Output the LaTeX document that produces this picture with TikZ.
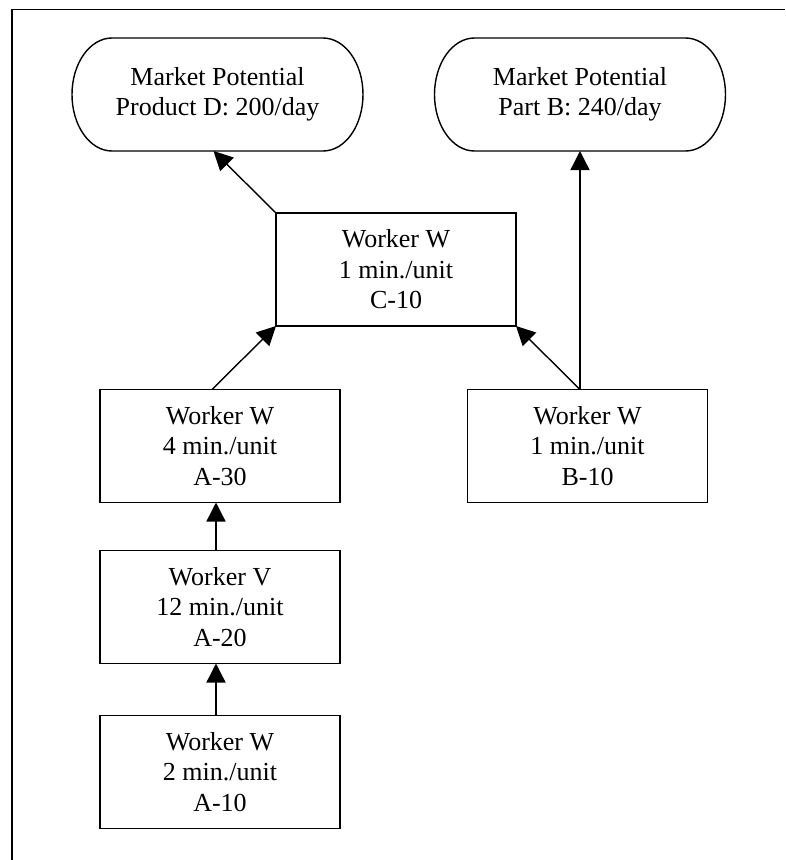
\documentclass[tikz,border=0pt]{standalone}
\usepackage{fontspec}
\setmainfont{Liberation Serif}
\usetikzlibrary{arrows.meta, positioning}
\newcommand{\pillbox}[1]{\draw ([xshift=40pt]#1.north west) -- ([xshift=-40pt]#1.north east)
  arc[start angle=90, end angle=-90, x radius=40pt, y radius=56.5pt] -- ([xshift=40pt]#1.south west)
  arc[start angle=270, end angle=90, x radius=40pt, y radius=56.5pt] -- cycle;}

\begin{document}
\begin{tikzpicture}[
    x=1pt, y=-1pt,
    node distance = 48pt and 48pt,
    stasjon/.style = {rectangle, draw, minimum width=240pt, minimum height=113pt, inner sep=0pt, outer sep=0pt, align=center},
    marked/.style = {rectangle, minimum width=291pt, minimum height=113pt, inner sep=0pt, outer sep=0pt, align=center},
    pil/.style = {black, -{Triangle[length=19pt, width=19pt]}},
    line width=1.4pt,
    font=\fontsize{26}{30.5}\selectfont
    ]

  \useasboundingbox (0,0) rectangle (785,860);
  \draw[line width=1.5pt] (785,9.5) -- (12,9.5) -- (12,860);

  \node[marked] (pd) at (217.5,94.5) {Market Potential\\Product D: 200/day} ;
  \node[marked] (pb) at (580,94.5) {Market Potential\\Part B: 240/day} ;
  \pillbox{pd}
  \pillbox{pb}

  \node[stasjon] (c10) at (396,269.5) {Worker W\\1 min./unit\\C-10} ;
  \node[stasjon] (a30) at (220,446) {Worker W\\4 min./unit\\A-30} ;
  \node[stasjon] (b10) at (587.5,446) {Worker W\\1 min./unit\\B-10} ;
  \node[stasjon] (a20) [below=of a30] {Worker V\\12 min./unit\\A-20} ;
  \node[stasjon] (a10) [below=52pt of a20] {Worker W\\2 min./unit\\A-10} ;

  \path[pil]
  ([xshift=-4pt]a10.north) edge ([xshift=-4pt]a20.south)
  ([xshift=-4pt]a20.north) edge ([xshift=-4pt]a30.south)
  ([xshift=-8pt]a30.north) edge (c10.south west)
  (b10.north -| pb.south) edge (c10.south east)
  (b10.north -| pb.south) edge (pb.south)
  (c10.north west) edge ([xshift=-4pt]pd.south);

\end{tikzpicture}
\end{document}
